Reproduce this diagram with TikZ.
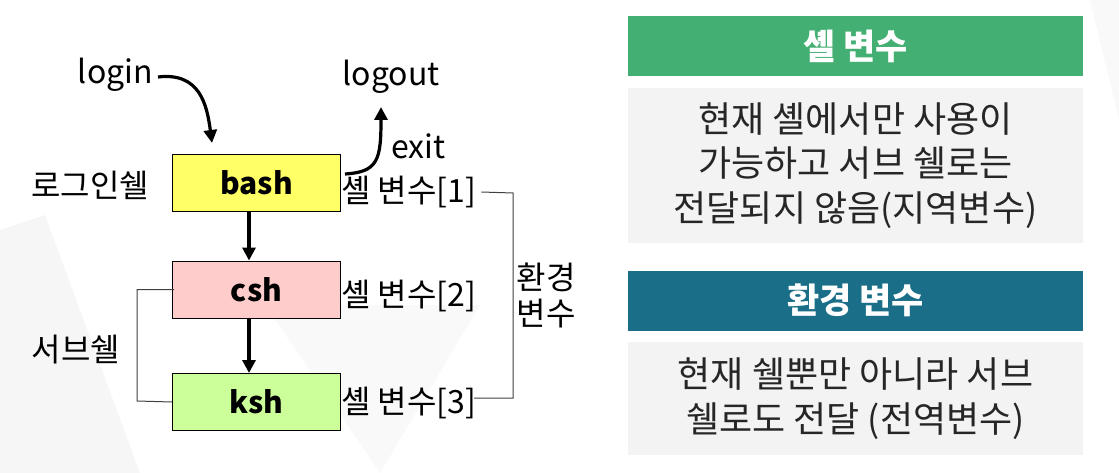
\documentclass[tikz,border=0pt]{standalone}
\usepackage{fontspec}
\setmainfont{Noto Sans CJK KR}
\usetikzlibrary{arrows.meta}
\definecolor{hdrgreen}{HTML}{43AF72}
\definecolor{hdrteal}{HTML}{1A6E87}
\definecolor{bodygray}{HTML}{F3F3F3}
\definecolor{bggray}{HTML}{F6F6F6}
\definecolor{ybox}{HTML}{FFFF66}
\definecolor{pbox}{HTML}{FFCCCC}
\definecolor{gbox}{HTML}{CCFF99}
\tikzset{
  shellbox/.style={draw=black, line width=1pt, minimum width=168pt, minimum height=57pt, inner sep=0pt, font=\fontsize{30}{32}\selectfont\bfseries},
  lbl/.style={inner sep=0pt, font=\fontsize{32}{36}\selectfont},
  thick arrow/.style={line width=3.2pt, -{Triangle[length=13pt,width=13pt]}},
  bracket/.style={draw=black!75, line width=1pt},
  hdr/.style={minimum width=455pt, minimum height=60pt, inner sep=0pt, text=white, font=\fontsize{35}{40}\selectfont\bfseries},
  body/.style={fill=bodygray, minimum width=455pt, inner sep=0pt, align=center, text=black!85, font=\fontsize{36}{44.5}\selectfont},
}
\begin{document}
\begin{tikzpicture}[x=1pt,y=-1pt]
\useasboundingbox (0,0) rectangle (1119,473);
% faint background triangles
\fill[bggray] (0,230) -- (45,215) -- (140,473) -- (0,473) -- cycle;
\fill[bggray!70] (265,305) -- (480,305) -- (380,473) -- cycle;
\fill[bggray!70] (1090,0) -- (1119,0) -- (1119,120) -- cycle;
% right panels
\node[hdr, fill=hdrgreen] (h1) at (855.5,46) {셸 변수};
\node[body, minimum height=155pt] (b1) at (855.5,165.5) {현재 셸에서만 사용이\\가능하고 서브 쉘로는\\전달되지 않음(지역변수)};
\node[hdr, fill=hdrteal] (h2) at (855.5,300.5) {환경 변수};
\node[body, minimum height=113pt] (b2) at (855.5,398.5) {현재 쉘뿐만 아니라 서브\\쉘로도 전달 (전역변수)};
% shell boxes
\node[shellbox, fill=ybox] (bash) at (256.5,183) {bash};
\node[shellbox, fill=pbox] (csh) at (256.5,289.5) {csh};
\node[shellbox, fill=gbox] (ksh) at (256.5,402) {ksh};
% labels
\node[lbl, anchor=east] (login) at (153,75) {login};
\node[lbl] (logout) at (391,77) {logout};
\node[lbl, anchor=west] (exit) at (391,146) {exit};
\node[lbl] (loginshell) at (90,185) {로그인쉘};
\node[lbl] (subshell) at (76,350) {서브쉘};
\node[lbl, anchor=west] (v1) at (341,192) {셸 변수[1]};
\node[lbl, anchor=west] (v2) at (341,296) {셸 변수[2]};
\node[lbl, anchor=west] (v3) at (341,403) {셸 변수[3]};
\node[lbl, align=center, font=\fontsize{32}{36}\selectfont] (env) at (546,295) {환경\\변수};
% arrows
\draw[thick arrow] (login.east) ++(5,2) .. controls (200,72) and (207,105) .. (212,143);
\coordinate (ee) at (381,107);
\draw[thick arrow] (bash.east) ++(4,-9) .. controls (378,172) and (381,160) .. (ee);
\draw[thick arrow] (bash.south -| 249,0) -- (csh.north -| 249,0);
\draw[thick arrow] (csh.south -| 249,0) -- (ksh.north -| 249,0);
% brackets
\draw[bracket] (csh.west) ++(2,0) -- (137,289.5) -- (137,401) -- (ksh.west);
\draw[bracket] (v1.east) ++(5,0) -- (513,193) -- (513,398) -- (474,398);
\end{tikzpicture}
\end{document}
